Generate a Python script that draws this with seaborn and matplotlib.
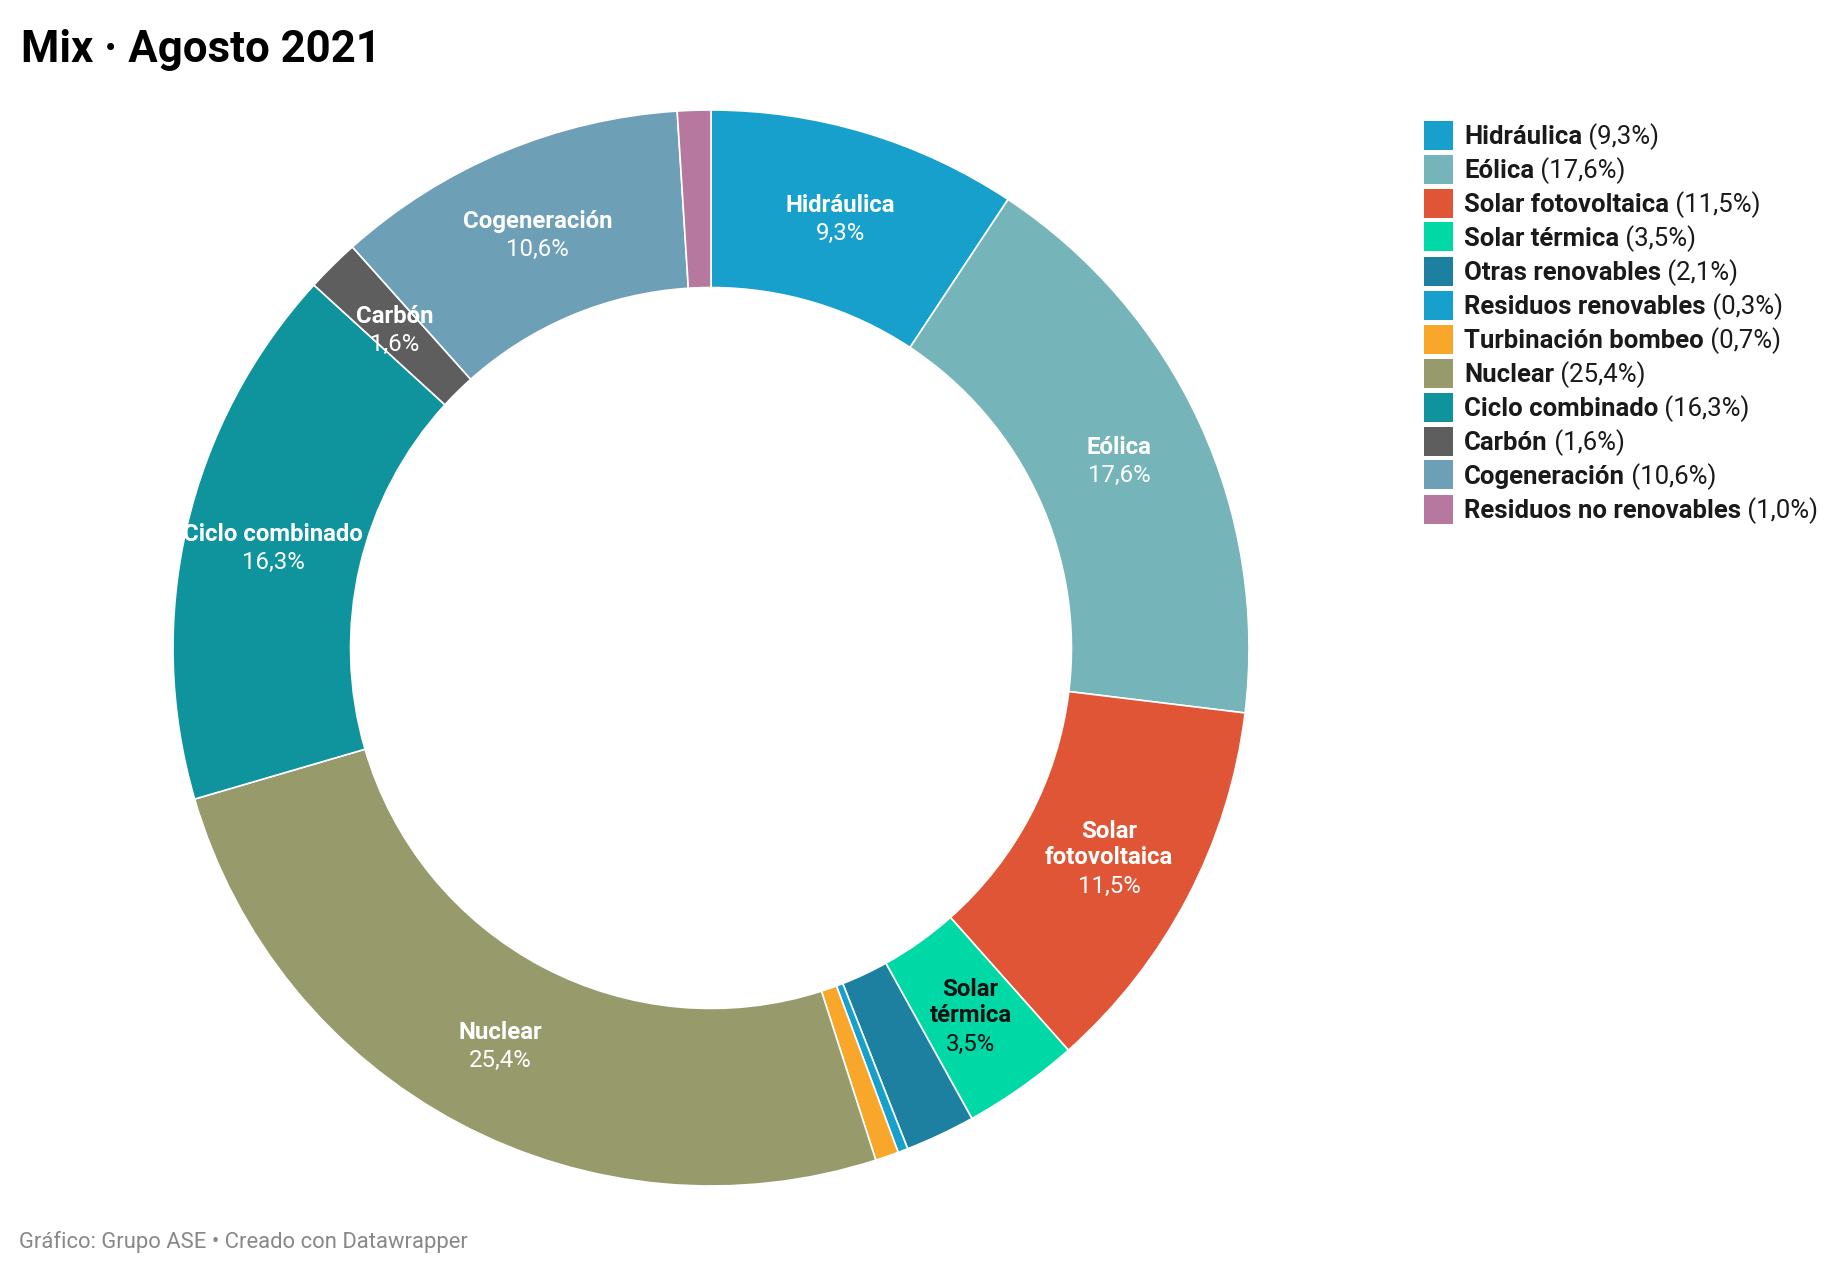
import matplotlib
matplotlib.use('Agg')
import matplotlib.pyplot as plt
import seaborn as sns
import numpy as np
from matplotlib.patches import Rectangle

# Datos del mix de generación (agosto 2021)
fuentes = ['Hidráulica', 'Eólica', 'Solar fotovoltaica', 'Solar térmica',
           'Otras renovables', 'Residuos renovables', 'Turbinación bombeo',
           'Nuclear', 'Ciclo combinado', 'Carbón', 'Cogeneración',
           'Residuos no renovables']
porcentajes = [9.3, 17.6, 11.5, 3.5, 2.1, 0.3, 0.7, 25.4, 16.3, 1.6, 10.6, 1.0]
colores = ['#18a0cd', '#75b4b8', '#e05536', '#00d8a5', '#1d80a1', '#18a0cd',
           '#f9a72a', '#979b6b', '#0f939c', '#5e5e5e', '#6d9fb6', '#b6789f']
# Etiquetas dentro del anillo (vacío = sin etiqueta)
etiquetas_anillo = ['Hidráulica', 'Eólica', 'Solar\nfotovoltaica', 'Solar\ntérmica',
                    '', '', '', 'Nuclear', 'Ciclo combinado', 'Carbón',
                    'Cogeneración', '']
texto_oscuro = ['Solar térmica']


def fmt(v):
    return f'{v:.1f}'.replace('.', ',') + '%'


sns.set_theme(style='white')
plt.rcParams['font.family'] = ['Roboto', 'DejaVu Sans']

W, H = 1840, 1274
fig = plt.figure(figsize=(W / 100, H / 100), dpi=100)
fig.patch.set_facecolor('white')

# Posición del donut (centro y radio en píxeles)
cx, cy, R = 711, 648, 538
ax = fig.add_axes([(cx - R) / W, (H - cy - R) / H, 2 * R / W, 2 * R / H])

paleta = sns.color_palette(colores)
wedges, _ = ax.pie(porcentajes, colors=paleta, startangle=90, counterclock=False,
                   radius=1, wedgeprops=dict(width=0.33, edgecolor='white', linewidth=1.2))
ax.set_xlim(-1, 1)
ax.set_ylim(-1, 1)
ax.set_aspect('equal')
ax.axis('off')

# Etiquetas en el anillo
r_lab = 0.835
paso = 28  # separación entre líneas en píxeles
ajuste_y = -2  # pequeño desplazamiento vertical del bloque de texto
for w, nombre, etq, v in zip(wedges, fuentes, etiquetas_anillo, porcentajes):
    if not etq:
        continue
    ang = np.deg2rad((w.theta1 + w.theta2) / 2)
    x, y = r_lab * np.cos(ang), r_lab * np.sin(ang)
    n = etq.count('\n') + 2
    col = '#111111' if nombre in texto_oscuro else 'white'
    ax.annotate(etq, xy=(x, y), xytext=(0, paso / 2 + ajuste_y), textcoords='offset pixels',
                ha='center', va='center', fontsize=17.3, fontweight='bold', color=col,
                linespacing=1.12, multialignment='center')
    ax.annotate(fmt(v), xy=(x, y), xytext=(0, -(n - 1) * paso / 2 + ajuste_y),
                textcoords='offset pixels', ha='center', va='center',
                fontsize=17.3, color=col)

# Título
fig.text(21 / W, 1 - 62 / H, 'Mix · Agosto 2021', fontsize=31.5, fontweight='bold',
         color='black', va='baseline', ha='left')

# Leyenda
renderer = fig.canvas.get_renderer()
for i, (nombre, v, c) in enumerate(zip(fuentes, porcentajes, colores)):
    yc = 135 + 34 * i
    fig.patches.append(Rectangle((1424 / W, 1 - (yc + 14.5) / H), 29 / W, 29 / H,
                                 transform=fig.transFigure, facecolor=c,
                                 edgecolor='none'))
    t = fig.text(1464 / W, 1 - (yc + 9) / H, nombre, fontsize=18.5, fontweight='bold',
                 color='#1a1a1a', va='baseline', ha='left')
    bb = t.get_window_extent(renderer=renderer)
    fig.text(bb.x1 / W, 1 - (yc + 9) / H, ' (' + fmt(v) + ')', fontsize=18.5,
             color='#1a1a1a', va='baseline', ha='left')

# Pie de gráfico
fig.text(19 / W, 1 - 1248 / H, 'Gráfico: Grupo ASE • Creado con Datawrapper',
         fontsize=15.8, color='#888888', va='baseline', ha='left')

fig.savefig('out.png', dpi=100, facecolor='white')
